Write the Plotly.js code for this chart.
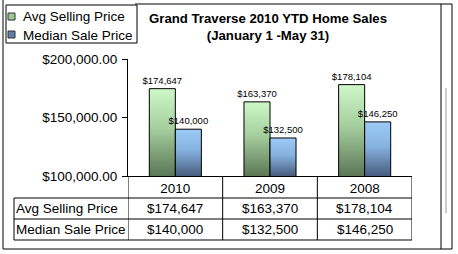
<!DOCTYPE html>
<html>
<head>
<meta charset="utf-8">
<script src="https://cdn.plot.ly/plotly-3.0.1.min.js"></script>
<style>
html,body{margin:0;padding:0;background:#fff;}
#chart{width:458px;height:254px;}
</style>
</head>
<body>
<div id="chart"></div>
<script>
// ---- data ----
const years = ['2010', '2009', '2008'];
const avgSellingPrice = [174647, 163370, 178104];
const medianSalePrice = [140000, 132500, 146250];
const seriesNames = ['Avg Selling Price', 'Median Sale Price'];
const chartTitle = 'Grand Traverse 2010 YTD Home Sales';
const chartSubtitle = '(January 1 -May 31)';

// ---- layout helpers (pixel -> paper) ----
const W = 458, H = 254;
const M = {l: 128, r: 46, t: 59, b: 78};
const PW = W - M.l - M.r, PH = H - M.t - M.b;
const xp = px => (px - M.l) / PW;
const yp = py => (H - M.b - py) / PH;
const FONT = 'Liberation Sans, Arial, sans-serif';
const money = v => '$' + v.toLocaleString('en-US');

const traces = [
  {type: 'bar', name: seriesNames[0], x: years, y: avgSellingPrice,
   marker: {color: '#9dc894', line: {color: '#000', width: 1}},
   texttemplate: '$%{y:,}', textposition: 'outside', cliponaxis: false, constraintext: 'none',
   textfont: {family: FONT, size: 9.5, color: '#000'}},
  {type: 'bar', name: seriesNames[1], x: years, y: medianSalePrice,
   marker: {color: '#7aa4d0', line: {color: '#000', width: 1}},
   texttemplate: '$%{y:,}', textposition: 'outside', cliponaxis: false, constraintext: 'none',
   textfont: {family: FONT, size: 9.5, color: '#000'}}
];

const shapes = [];
const line = (x0, y0, x1, y1, color) => shapes.push({
  type: 'line', xref: 'paper', yref: 'paper',
  x0: x0, y0: y0, x1: x1, y1: y1, line: {color: color || '#000', width: 1}
});
// outer frame
line(xp(3), yp(0), xp(3), yp(249));
line(xp(3), yp(249), xp(441), yp(249));
line(xp(135), yp(4), xp(441), yp(4));
line(xp(441), yp(4), xp(441), yp(249));
line(xp(441), yp(4), xp(452), yp(4));
line(xp(452), yp(4), xp(452), yp(249));
line(xp(441), yp(249), xp(452), yp(249));
line(xp(446), yp(88), xp(446), yp(213), '#999');
// data table grid
[198, 219, 240].forEach(py => line(xp(14), yp(py), 1, yp(py)));
line(xp(14), yp(198), xp(14), yp(240));
[-0.5, 0.5, 1.5, 2.5].forEach(c => shapes.push({
  type: 'line', xref: 'x', yref: 'paper', x0: c, x1: c, y0: 0, y1: yp(240),
  line: {color: '#000', width: 1}
}));
// legend box and keys
shapes.push({type: 'rect', xref: 'paper', yref: 'paper',
  x0: xp(6), x1: xp(137), y0: yp(5), y1: yp(43), line: {color: '#000', width: 1}, fillcolor: 'rgba(0,0,0,0)'});
shapes.push({type: 'rect', xref: 'paper', yref: 'paper',
  x0: xp(8), x1: xp(15), y0: yp(13), y1: yp(20), line: {color: '#333', width: 1}, fillcolor: '#9dc894'});
shapes.push({type: 'rect', xref: 'paper', yref: 'paper',
  x0: xp(8), x1: xp(15), y0: yp(31), y1: yp(38), line: {color: '#333', width: 1}, fillcolor: '#5f7fa8'});

const annotations = [];
const txt = (o) => annotations.push(Object.assign({
  showarrow: false, font: {family: FONT, size: 13.5, color: '#000'}, yanchor: 'middle'
}, o));
// legend texts
txt({xref: 'paper', yref: 'paper', x: xp(21), y: yp(16.5), xanchor: 'left', text: seriesNames[0]});
txt({xref: 'paper', yref: 'paper', x: xp(21), y: yp(35), xanchor: 'left', text: seriesNames[1]});
// table row labels
txt({xref: 'paper', yref: 'paper', x: xp(14), y: yp(208.5), xanchor: 'left', text: seriesNames[0]});
txt({xref: 'paper', yref: 'paper', x: xp(14), y: yp(229.5), xanchor: 'left', text: seriesNames[1]});
// table values (x = category index)
years.forEach((yr, i) => {
  txt({xref: 'x', yref: 'paper', x: i, y: yp(208.5), xanchor: 'center', text: money(avgSellingPrice[i])});
  txt({xref: 'x', yref: 'paper', x: i, y: yp(229.5), xanchor: 'center', text: money(medianSalePrice[i])});
});

const layout = {
  width: W, height: H, margin: M,
  paper_bgcolor: '#fff', plot_bgcolor: '#fff',
  showlegend: false,
  barmode: 'group', bargap: 0.45, bargroupgap: 0,
  title: {text: '<b>' + chartTitle + '</b><br><b>' + chartSubtitle + '</b>',
    font: {family: FONT, size: 13.2, color: '#000'},
    xref: 'container', yref: 'container', x: 268 / W, xanchor: 'center', y: 1 - 23 / H, yanchor: 'top'},
  xaxis: {type: 'category', categoryorder: 'array', categoryarray: years, range: [-0.5, 2.5],
    showline: true, linecolor: '#000', linewidth: 1, ticks: '', showgrid: false, zeroline: false,
    tickfont: {family: FONT, size: 13.5, color: '#000'}, fixedrange: true},
  yaxis: {range: [100000, 200000], dtick: 50000, tickprefix: '$', tickformat: ',.2f',
    showline: true, linecolor: '#000', linewidth: 1, ticks: 'outside', ticklen: 5, tickcolor: '#000',
    showgrid: false, zeroline: false, ticklabelstandoff: 2,
    tickfont: {family: FONT, size: 13.5, color: '#000'}, fixedrange: true},
  shapes: shapes, annotations: annotations
};

const gd = document.getElementById('chart');
Plotly.newPlot(gd, traces, layout, {staticPlot: true, displayModeBar: false}).then(() => {
  const svg = gd.querySelector('svg.main-svg');
  const NS = 'http://www.w3.org/2000/svg';
  let defs = svg.querySelector('defs');
  const stops = [
    [['0', '#cef8c9'], ['0.45', '#a6cf9e'], ['1', '#5b7756']],
    [['0', '#9ccbf7'], ['0.45', '#86b2e0'], ['1', '#475d7e']]
  ];
  const plotH = PH;
  gd.querySelectorAll('.barlayer .trace').forEach((tr, ti) => {
    tr.querySelectorAll('.point path').forEach((p, pi) => {
      const bb = p.getBBox();
      const id = 'grad' + ti + '_' + pi;
      const g = document.createElementNS(NS, 'linearGradient');
      g.setAttribute('id', id);
      g.setAttribute('gradientUnits', 'userSpaceOnUse');
      g.setAttribute('x1', 0); g.setAttribute('x2', 0);
      g.setAttribute('y1', bb.y); g.setAttribute('y2', Math.min(bb.y + bb.height, plotH));
      stops[ti].forEach(s => {
        const st = document.createElementNS(NS, 'stop');
        st.setAttribute('offset', s[0]); st.setAttribute('stop-color', s[1]);
        g.appendChild(st);
      });
      defs.appendChild(g);
      p.style.fill = 'url(#' + id + ')';
    });
  });
});
</script>
</body>
</html>
